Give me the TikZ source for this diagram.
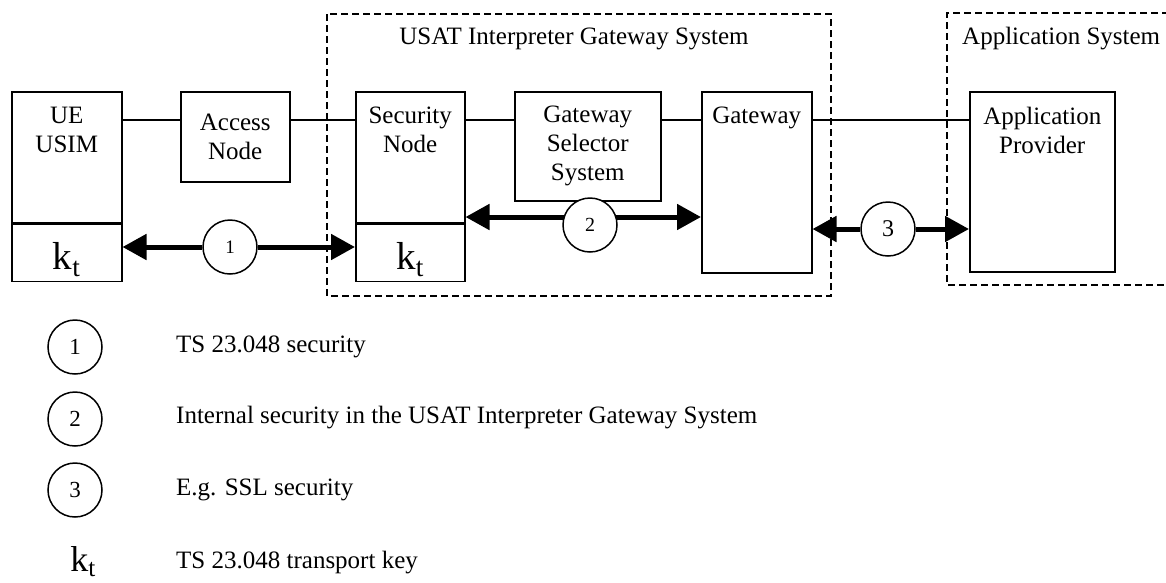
\documentclass[tikz,border=0pt]{standalone}
\usepackage{fontspec}
\setmainfont{Liberation Serif}
\usetikzlibrary{arrows.meta,positioning}
\tikzset{
  block/.style = {draw, line width=1.5pt, fill=white, inner sep=0pt, align=center},
  blocktext/.style = {inner sep=0pt, align=center},
  keybox/.style = {block, font=\fontsize{39}{39}\selectfont, text height=33pt, text depth=0pt},
  seccircle/.style = {circle, draw, line width=1.5pt, fill=white, minimum size=54pt, inner sep=0pt},
  secarrow/.style = {-{Triangle[length=24pt,width=25pt]}, line width=5pt},
  link/.style = {line width=1.5pt},
  system/.style = {line width=1.5pt, dash pattern=on 7pt off 4pt}
  }

\begin{document}
\begin{tikzpicture}[x=1pt,y=-1pt,font=\fontsize{25}{29}\selectfont]
\useasboundingbox (0,0) rectangle (1166,582);

\draw[system] (327,14) rectangle (831,296);
\draw[system] (1180,13) -- (947,13) -- (947,285) -- (1180,285);
\node[anchor=base] (usat) at (574,44) {USAT Interpreter Gateway System};
\node[anchor=base west,inner sep=0pt] (appsys) at (962,44) {Application System};

\node[block,minimum width=110pt,minimum height=131pt,anchor=north west] (ue) at (11,91) {};
\node[keybox,minimum width=110pt,minimum height=57pt,anchor=north] (uekey) at (ue.south) {k\textsubscript{t}};
\node[blocktext,below=16pt of ue.north] (uetext) {UE\\USIM};
\node[block,minimum width=109pt,minimum height=90pt,anchor=north west] (acc) at (180,91) {Access\\Node};
\node[block,minimum width=109pt,minimum height=131pt,anchor=north west] (sec) at (355,91) {};
\node[keybox,minimum width=109pt,minimum height=57pt,anchor=north] (seckey) at (sec.south) {k\textsubscript{t}};
\node[blocktext,below=16pt of sec.north] (sectext) {Security\\Node};
\node[block,minimum width=146pt,minimum height=109pt,anchor=north west] (gss) at (514,91) {Gateway\\Selector\\System};
\node[block,minimum width=110pt,minimum height=181pt,anchor=north west] (gw) at (701,91) {};
\node[blocktext,below=16pt of gw.north] (gwtext) {Gateway};
\node[block,minimum width=145pt,minimum height=180pt,anchor=north west] (app) at (969,91) {};
\node[blocktext,below=16pt of app.north] (apptext) {Application\\Provider};

\coordinate (bus) at (0,120);
\foreach \a/\b in {ue/acc,acc/sec,sec/gss,gss/gw,gw/app}
  \draw[link] (\a.east |- bus) -- (\b.west |- bus);

\node[seccircle,font=\fontsize{19}{19}\selectfont] (sec1) at (230,247) {1};
\draw[secarrow] (sec1) -- (sec1 -| uekey.east);
\draw[secarrow] (sec1) -- (sec1 -| seckey.west);

\coordinate (mid2) at (590,217);
\draw[secarrow] (mid2) -- (mid2 -| sec.east);
\draw[secarrow] (mid2) -- (mid2 -| gw.west);
\node[seccircle,font=\fontsize{20}{20}\selectfont] (sec2) at (590,225) {2};

\node[seccircle,font=\fontsize{24}{24}\selectfont] (sec3) at (888,229) {3};
\draw[secarrow] (sec3) -- (sec3 -| gw.east);
\draw[secarrow] (sec3) -- (sec3 -| app.west);

\node[seccircle,font=\fontsize{23}{23}\selectfont] (leg1) at (75,347) {1};
\node[seccircle,font=\fontsize{23}{23}\selectfont] (leg2) at (75,419) {2};
\node[seccircle,font=\fontsize{23}{23}\selectfont] (leg3) at (75,490) {3};
\node[anchor=base,inner sep=0pt,font=\fontsize{36}{36}\selectfont] (legkey) at (83,571) {k\textsubscript{t}};
\node[anchor=base west,inner sep=0pt] (leg1text) at (176,352) {TS 23.048 security};
\node[anchor=base west,inner sep=0pt] (leg2text) at (176,423) {Internal security in the USAT Interpreter Gateway System};
\node[anchor=base west,inner sep=0pt] (leg3text) at (176,495) {E.g. SSL security};
\node[anchor=base west,inner sep=0pt] (legkeytext) at (176,568) {TS 23.048 transport key};
\end{tikzpicture}
\end{document}
